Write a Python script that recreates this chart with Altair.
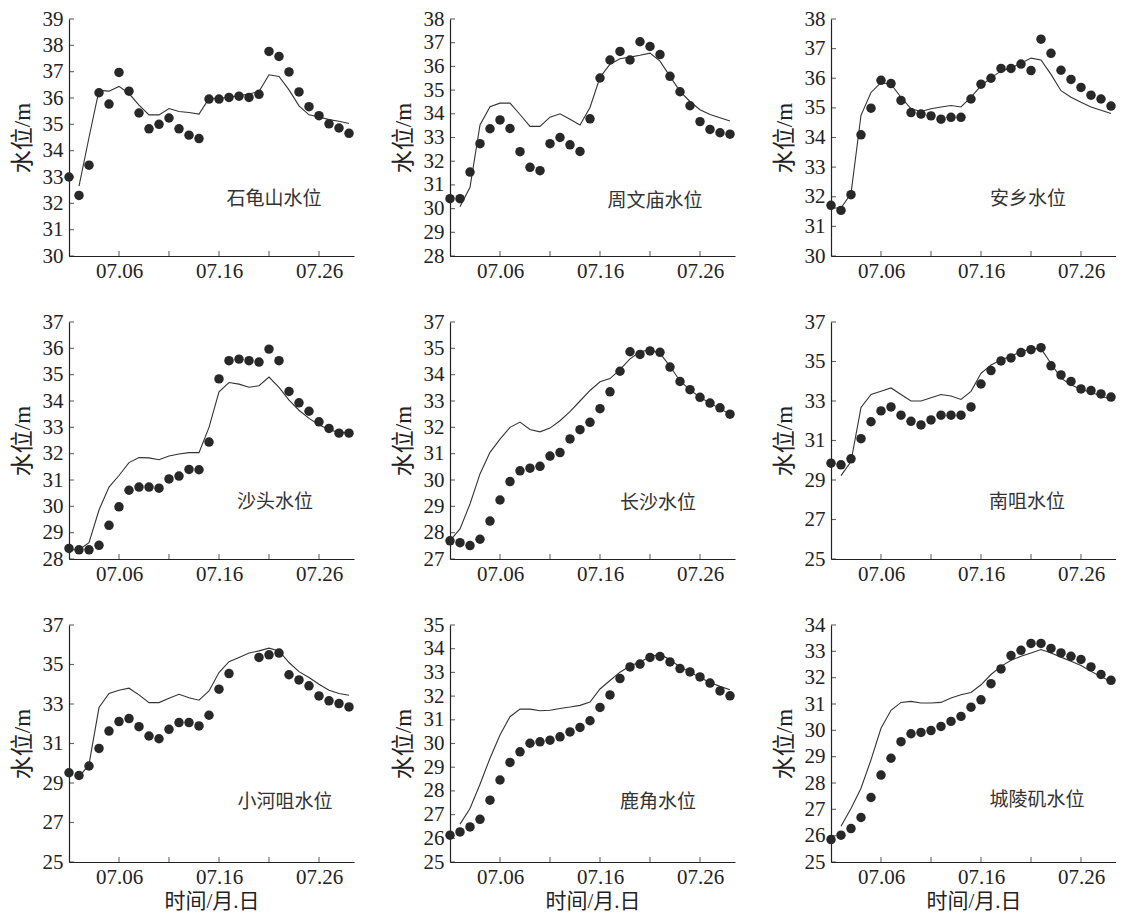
import altair as alt
import pandas as pd

# ---------------- data ----------------
days = list(range(1, 30))          # 07.01 ... 07.29
x_tick_days = [6, 11, 16, 21, 26]
x_label_days = [6, 16, 26]
x_month = "07"

station_names = ["石龟山水位", "周文庙水位", "安乡水位",
                 "沙头水位", "长沙水位", "南咀水位",
                 "小河咀水位", "鹿角水位", "城陵矶水位"]

obs_shiguishan = [33.0, 32.3, 33.45, 36.2, 35.77, 36.97, 36.26, 35.43, 34.83, 35.0, 35.24, 34.83, 34.59, 34.46,
                  35.96, 35.96, 36.02, 36.07, 36.02, 36.14, 37.77, 37.58, 36.99, 36.23, 35.67, 35.33, 35.02, 34.86, 34.66]
sim_shiguishan = [None, 32.65, 34.5, 36.29, 36.26, 36.44, 36.17, 35.73, 35.36, 35.36, 35.6, 35.49, 35.45, 35.39,
                  35.98, 35.98, 36.03, 36.09, 36.15, 36.25, 36.88, 36.82, 36.31, 35.7, 35.36, 35.28, 35.18, 35.12, 35.03]

obs_zhouwenmiao = [30.42, 30.42, 31.54, 32.74, 33.37, 33.74, 33.38, 32.4, 31.74, 31.6, 32.74, 33.0, 32.69, 32.41,
                   33.79, 35.51, 36.27, 36.63, 36.27, 37.04, 36.84, 36.5, 35.58, 34.93, 34.34, 33.67, 33.34, 33.2, 33.14]
sim_zhouwenmiao = [None, 30.08, 30.9, 33.53, 34.3, 34.45, 34.45, 33.97, 33.47, 33.47, 33.86, 34.0, 33.77, 33.53,
                   34.27, 35.54, 36.09, 36.32, 36.39, 36.47, 36.56, 36.22, 35.58, 34.95, 34.52, 34.17, 33.97, 33.83, 33.7]

obs_anxiang = [31.71, 31.54, 32.07, 34.09, 34.99, 35.93, 35.82, 35.25, 34.84, 34.79, 34.73, 34.62, 34.68, 34.68,
               35.3, 35.8, 36.0, 36.33, 36.33, 36.48, 36.26, 37.32, 36.84, 36.27, 35.96, 35.69, 35.43, 35.3, 35.06]
sim_anxiang = [31.62, 31.62, 32.11, 34.75, 35.52, 35.85, 35.8, 35.36, 34.97, 34.88, 34.97, 35.03, 35.08, 35.03,
               35.36, 35.74, 36.02, 36.24, 36.35, 36.51, 36.68, 36.62, 36.13, 35.58, 35.36, 35.19, 35.03, 34.92, 34.81]

obs_shatou = [28.4, 28.35, 28.35, 28.52, 29.28, 29.98, 30.61, 30.73, 30.73, 30.69, 31.04, 31.15, 31.4, 31.39,
              32.44, 34.84, 35.53, 35.59, 35.53, 35.48, 35.97, 35.53, 34.36, 33.93, 33.61, 33.21, 32.96, 32.78, 32.78]
sim_shatou = [28.35, 28.35, 28.62, 29.86, 30.73, 31.17, 31.66, 31.85, 31.84, 31.77, 31.91, 31.99, 32.04, 32.04,
              33.0, 34.35, 34.7, 34.64, 34.52, 34.58, 34.91, 34.52, 34.03, 33.65, 33.34, 33.1, 32.91, 32.81, 32.81]

obs_changsha = [27.69, 27.62, 27.51, 27.75, 28.44, 29.24, 29.94, 30.35, 30.45, 30.52, 30.91, 31.04, 31.56, 31.91,
                32.19, 32.71, 33.35, 34.13, 34.87, 34.77, 34.9, 34.85, 34.29, 33.74, 33.43, 33.14, 32.92, 32.74, 32.5]
sim_changsha = [27.7, 28.14, 29.09, 30.23, 31.05, 31.55, 32.0, 32.2, 31.92, 31.83, 31.97, 32.25, 32.6, 33.0,
                33.4, 33.73, 33.85, 34.19, 34.6, 34.87, 34.94, 34.81, 34.32, 33.76, 33.42, 33.14, 32.92, 32.71, 32.5]

obs_nanzui = [29.85, 29.77, 30.07, 31.09, 31.95, 32.5, 32.7, 32.28, 31.97, 31.79, 32.04, 32.28, 32.28, 32.28,
              32.7, 33.86, 34.54, 35.03, 35.18, 35.45, 35.6, 35.7, 34.78, 34.32, 33.99, 33.61, 33.53, 33.36, 33.2]
sim_nanzui = [None, 29.22, 29.93, 32.67, 33.33, 33.49, 33.66, 33.33, 33.0, 33.0, 33.16, 33.33, 33.25, 33.08,
              33.49, 34.4, 34.82, 35.07, 35.28, 35.48, 35.65, 35.65, 34.9, 34.16, 33.82, 33.58, 33.44, 33.25, 33.08]

obs_xiaohezui = [29.52, 29.38, 29.86, 30.75, 31.63, 32.11, 32.26, 31.85, 31.38, 31.24, 31.72, 32.06, 32.06, 31.89,
                 32.43, 33.75, 34.54, None, None, 35.36, 35.49, 35.58, 34.48, 34.22, 33.92, 33.41, 33.16, 33.02, 32.85]
sim_xiaohezui = [None, 29.3, 29.94, 32.82, 33.53, 33.7, 33.8, 33.46, 33.07, 33.07, 33.29, 33.49, 33.32, 33.19,
                 33.66, 34.59, 35.14, 35.36, 35.58, 35.69, 35.83, 35.69, 35.1, 34.64, 34.34, 34.0, 33.7, 33.53, 33.44]

obs_lujiao = [26.13, 26.27, 26.48, 26.8, 27.61, 28.46, 29.2, 29.65, 30.01, 30.07, 30.14, 30.28, 30.49, 30.68,
              30.96, 31.52, 32.05, 32.74, 33.23, 33.35, 33.63, 33.67, 33.44, 33.16, 33.02, 32.81, 32.55, 32.22, 32.01]
sim_lujiao = [None, 26.6, 27.26, 28.28, 29.38, 30.36, 31.13, 31.45, 31.45, 31.38, 31.4, 31.48, 31.54, 31.61,
              31.75, 32.3, 32.66, 33.01, 33.27, 33.44, 33.66, 33.77, 33.53, 33.23, 33.02, 32.78, 32.57, 32.41, 32.27]

obs_chenglingji = [25.85, 26.02, 26.27, 26.69, 27.45, 28.3, 28.94, 29.57, 29.87, 29.92, 29.99, 30.15, 30.34, 30.53,
                   30.88, 31.16, 31.77, 32.33, 32.84, 33.04, 33.3, 33.3, 33.11, 32.94, 32.81, 32.69, 32.41, 32.12, 31.9]
sim_chenglingji = [None, 26.36, 27.03, 27.8, 28.88, 30.08, 30.76, 31.06, 31.1, 31.04, 31.04, 31.06, 31.23, 31.35,
                   31.44, 31.73, 32.12, 32.43, 32.66, 32.81, 32.94, 33.07, 32.94, 32.78, 32.62, 32.46, 32.24, 32.03, 31.86]

obs_series = [obs_shiguishan, obs_zhouwenmiao, obs_anxiang, obs_shatou, obs_changsha,
              obs_nanzui, obs_xiaohezui, obs_lujiao, obs_chenglingji]
sim_series = [sim_shiguishan, sim_zhouwenmiao, sim_anxiang, sim_shatou, sim_changsha,
              sim_nanzui, sim_xiaohezui, sim_lujiao, sim_chenglingji]

ytick_values = [
    list(range(30, 40)),
    list(range(28, 39)),
    list(range(30, 39)),
    list(range(28, 38)),
    list(range(27, 37)),
    list(range(25, 38, 2)),
    list(range(25, 38, 2)),
    list(range(25, 36)),
    list(range(25, 35)),
]
# tick labels as printed (the 长沙 panel prints "37" on its top tick)
ytick_labels = [[str(v) for v in vals] for vals in ytick_values]
ytick_labels[4] = ["27", "28", "29", "30", "31", "32", "33", "34", "35", "37"]

# ---------------- layout / style ----------------
W, H = 285, 237
label_pos = [(205, 180), (205, 182), (197, 180),
             (206, 180), (208, 181), (196, 180),
             (216, 177), (208, 177), (206, 175)]
FONT = "'Liberation Serif', 'Noto Sans CJK SC', serif"
INK = "#222222"


def ylabel_expr(values, labels):
    expr = "datum.label"
    for v, l in zip(values, labels):
        if str(v) != l:
            expr = f"datum.value == {v} ? '{l}' : " + expr
    return expr


xlabel_expr = f"'{x_month}.' + (datum.value < 10 ? '0' : '') + datum.value"


def panel(i):
    df = pd.DataFrame({"day": days, "obs": obs_series[i], "sim": sim_series[i]})
    yv = ytick_values[i]
    ydom = [yv[0], yv[-1]]
    xscale = alt.Scale(domain=[1, 29.5], nice=False, zero=False)
    yscale = alt.Scale(domain=ydom, nice=False, zero=False)
    bottom = i >= 6
    xaxis = alt.Axis(values=x_label_days, labelExpr=xlabel_expr, labelPadding=4,
                     labelFontSize=21, labelOverlap=False,
                     title=("时间/月.日" if bottom else None), titlePadding=3, titleFontSize=21)
    yaxis = alt.Axis(values=yv, labelExpr=ylabel_expr(yv, ytick_labels[i]),
                     labelFontSize=21, labelOverlap=False,
                     labelPadding=6, title="水位/m", titlePadding=8, titleFontSize=23)

    X = lambda f: alt.X(f, scale=xscale, axis=xaxis)
    Y = lambda f: alt.Y(f, scale=yscale, axis=yaxis)

    line = alt.Chart(df).mark_line(color="#333333", strokeWidth=1.1).encode(
        x=X("day:Q"), y=Y("sim:Q"))
    pts = alt.Chart(df).mark_circle(size=90, color="#282828", opacity=1).encode(
        x=X("day:Q"), y=Y("obs:Q"))

    yt_df = pd.DataFrame({"day": [1] * len(yv), "v": yv})
    yt = alt.Chart(yt_df).mark_tick(orient="horizontal", size=5, thickness=1.1,
                                    xOffset=2.5, color=INK).encode(
        x=X("day:Q"), y=Y("v:Q"))
    xt_df = pd.DataFrame({"day": x_tick_days, "v": [ydom[0]] * len(x_tick_days)})
    xt = alt.Chart(xt_df).mark_tick(orient="vertical", size=5, thickness=1.1,
                                    yOffset=-2.5, color=INK).encode(
        x=X("day:Q"), y=Y("v:Q"))

    lx, ly = label_pos[i]
    txt = alt.Chart(pd.DataFrame({"label": [station_names[i]]})).mark_text(
        font=FONT, fontSize=19, color="#333333", align="center", baseline="middle"
    ).encode(x=alt.value(lx), y=alt.value(ly), text="label:N")

    return alt.layer(line, pts, yt, xt, txt).properties(width=W, height=H)


chart = alt.concat(
    *[panel(i) for i in range(9)],
    columns=3,
    spacing={"row": 66, "column": 96},
    bounds="flush",
).properties(
    padding={"left": 3, "top": 0, "right": 0, "bottom": 0}
).configure_view(
    stroke=None
).configure_axis(
    domainColor=INK, domainWidth=1.2, ticks=False, grid=False,
    labelFont=FONT, labelColor=INK,
    titleFont=FONT, titleFontWeight="normal", titleColor=INK,
)

chart.save("out.html", embed_options={"renderer": "svg", "actions": False})
